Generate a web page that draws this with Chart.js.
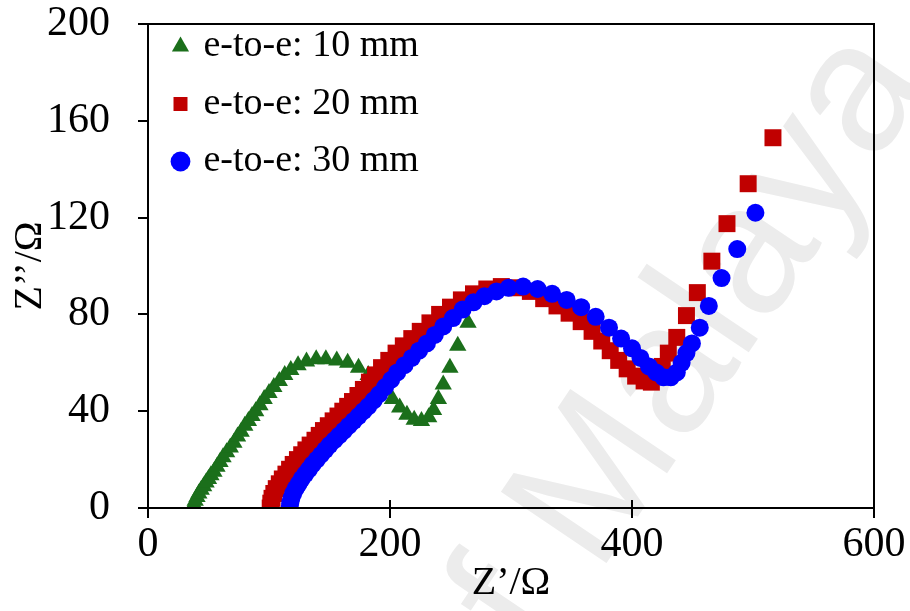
<!DOCTYPE html>
<html>
<head>
<meta charset="utf-8">
<script src="https://cdn.jsdelivr.net/npm/chart.js@4.4.1/dist/chart.umd.min.js"></script>
<style>
html,body{margin:0;padding:0;background:#fff;}
#wrap{width:910px;height:611px;position:relative;}
</style>
</head>
<body>
<div id="wrap"><canvas id="c" width="910" height="611"></canvas></div>
<script>
// ---- data ----
const seriesNames = ['e-to-e: 10 mm', 'e-to-e: 20 mm', 'e-to-e: 30 mm'];
const xTitle = 'Z’/Ω';
const yTitle = 'Z’’/Ω';
const xTicks = [0, 200, 400, 600];
const yTicks = [0, 40, 80, 120, 160, 200];

const x10 = [37,38,39,40.5,42,44,46,48,50,52,54.5,57,59.5,62,65,68,71,74,77,80,83,86,89,92.5,96,100,104,108.5,113,118,124,131,139,147,156,165,174,182,189,196,202,208,214,220,226,232,236,240,244,249.5,256,264.5];
const y10 = [0,1.5,3,4.5,6,7.5,9,10.5,12,13.5,15,17,19,21,23,25,27,29.5,31.5,34,36,38,40,42.5,45,47.5,50,52.5,55,57,59,60.5,61.5,61.5,61,60,58,55,52,48.5,45,41.5,38.5,36.5,36,37.5,40.5,45,51,58,67,76.5];

const x20 = [101,101.5,102.5,104,106,108.5,111,114,117,120,123.5,127,130.5,134,138,141.5,145,149,153,157,161,165,169,173.5,178,183,188,193,199,205,211,218,225,233,241,250,259,269,280,292,304,316,327,338,348,358,367,375,382,389,396,403,410,416,421,425,430,437,445,454,466,478.5,496,516.5];
const y20 = [0,2,4,6,8,10,12,14,16,18,20,22,24,26,28,30,32,34,36,38,40,42,44,46.5,49,52,55,58,61,64,67,70,73,76.5,80,83,86,88.5,90.5,91.5,91,89.5,86.5,83.5,80.5,77,73,69,65,61,57.5,54.5,52.5,52,54.5,58.5,64,70.5,79.5,89,102,117.5,134,153];

const x30 = [117,117.5,118.5,120,122,124.5,127,130,133,136,139.5,143,146.5,150,154,158,162,166,170,174,178,182,186.5,191,196,201,206,212,218,224,230.5,237,244,252,260,269,278,288,298,310,322,334,346,358,370,381,391,400,407,414,420,426,432,437,441,445,449.5,456,463.5,474,487,502];
const y30 = [0,2,4,6,8,10,12,14,16,18,20,22,24,26,28,30,32,34,36,38,40,42,44.5,47,50,53,56,59,62,65,68,71.5,75,78.5,82,85,87.5,89.5,91,91.5,90.5,88.5,86,83,79,74.5,70,66,62,58.5,56,54,54,56,60,64,68,74.5,83.5,95,107,122];

const watermarkText = 'of Malaya';

// ---- helpers ----
const toPts = (xs, ys) => xs.map((x, i) => ({x: x, y: ys[i]}));
const SERIF = 'Liberation Serif, Times New Roman, serif';

const framePlugin = {
  id: 'frame',
  afterDraw(chart) {
    const {ctx, chartArea: a} = chart;
    ctx.save();
    ctx.strokeStyle = '#000';
    ctx.lineWidth = 2;
    ctx.strokeRect(a.left, a.top, a.right - a.left, a.bottom - a.top);
    const xs = chart.scales.x;
    ctx.beginPath();
    xs.ticks.forEach(t => {
      const px = Math.round(xs.getPixelForValue(t.value));
      ctx.moveTo(px, a.bottom);
      ctx.lineTo(px, a.bottom - 8);
    });
    ctx.stroke();
    ctx.restore();
  }
};

const watermarkPlugin = {
  id: 'watermark',
  beforeDraw(chart) {
    const ctx = chart.ctx;
    ctx.save();
    ctx.fillStyle = '#ececec';
    ctx.font = '185px "Liberation Sans", Arial, sans-serif';
    ctx.translate(665, 385);
    ctx.rotate(-56 * Math.PI / 180);
    ctx.textAlign = 'center';
    ctx.textBaseline = 'middle';
    ctx.fillText(watermarkText, 0, 0);
    ctx.restore();
  }
};

const legendPlace = {
  id: 'legendPlace',
  beforeDraw(chart) {
    const lg = chart.legend;
    if (!lg) return;
    lg.left = 157;
    lg.top = 8;
    lg.right = 600;
    lg.bottom = 400;
    lg.width = lg.right - lg.left;
    lg.height = lg.bottom - lg.top;
  }
};

new Chart(document.getElementById('c').getContext('2d'), {
  type: 'scatter',
  data: {
    datasets: [
      {label: seriesNames[0], data: toPts(x10, y10), pointStyle: 'triangle', pointRadius: 10,
       backgroundColor: '#1b6f1b', borderColor: '#1b6f1b', borderWidth: 0, order: 2},
      {label: seriesNames[1], data: toPts(x20, y20), pointStyle: 'rect', pointRadius: 12,
       backgroundColor: '#c00000', borderColor: '#c00000', borderWidth: 0, order: 1},
      {label: seriesNames[2], data: toPts(x30, y30), pointStyle: 'circle', pointRadius: 9,
       backgroundColor: '#0000ff', borderColor: '#0000ff', borderWidth: 0, order: 0}
    ]
  },
  options: {
    responsive: false,
    animation: false,
    events: [],
    layout: {padding: {top: 24, right: 36, left: 0, bottom: 0}},
    plugins: {
      tooltip: {enabled: false},
      legend: {
        position: 'chartArea',
        align: 'start',
        fullSize: false,
        labels: {
          usePointStyle: true,
          boxWidth: 8,
          boxHeight: 14,
          padding: 19.5,
          color: '#000',
          sort: (a, b) => a.datasetIndex - b.datasetIndex,
          font: {family: SERIF, size: 38, lineHeight: 1}
        }
      }
    },
    scales: {
      x: {
        type: 'linear',
        min: 0, max: 600,
        afterBuildTicks: s => { s.ticks = xTicks.map(v => ({value: v})); },
        afterFit: s => { s.height = 103; s.paddingLeft = 0; s.paddingRight = 0; },
        ticks: {color: '#000', padding: 6, maxRotation: 0, autoSkip: false,
                font: {family: SERIF, size: 42, lineHeight: 1}},
        grid: {drawOnChartArea: false, drawTicks: true, tickLength: 10, color: '#000', lineWidth: 2},
        border: {display: true, color: '#000', width: 2},
        title: {display: true, text: xTitle, color: '#000',
                font: {family: SERIF, size: 40, lineHeight: 1.2}, padding: {top: 0, bottom: 4}}
      },
      y: {
        type: 'linear',
        min: 0, max: 200,
        afterBuildTicks: s => { s.ticks = yTicks.map(v => ({value: v})); },
        afterFit: s => { s.width = 148; s.paddingTop = 0; s.paddingBottom = 0; },
        ticks: {color: '#000', padding: 28, autoSkip: false,
                font: {family: SERIF, size: 42, lineHeight: 1}},
        grid: {drawOnChartArea: false, drawTicks: true, tickLength: 10, color: '#000', lineWidth: 2},
        border: {display: true, color: '#000', width: 2},
        title: {display: true, text: yTitle, color: '#000',
                font: {family: SERIF, size: 40, lineHeight: 1.2}, padding: {top: 6, bottom: 0}}
      }
    }
  },
  plugins: [watermarkPlugin, legendPlace, framePlugin]
});
</script>
</body>
</html>
